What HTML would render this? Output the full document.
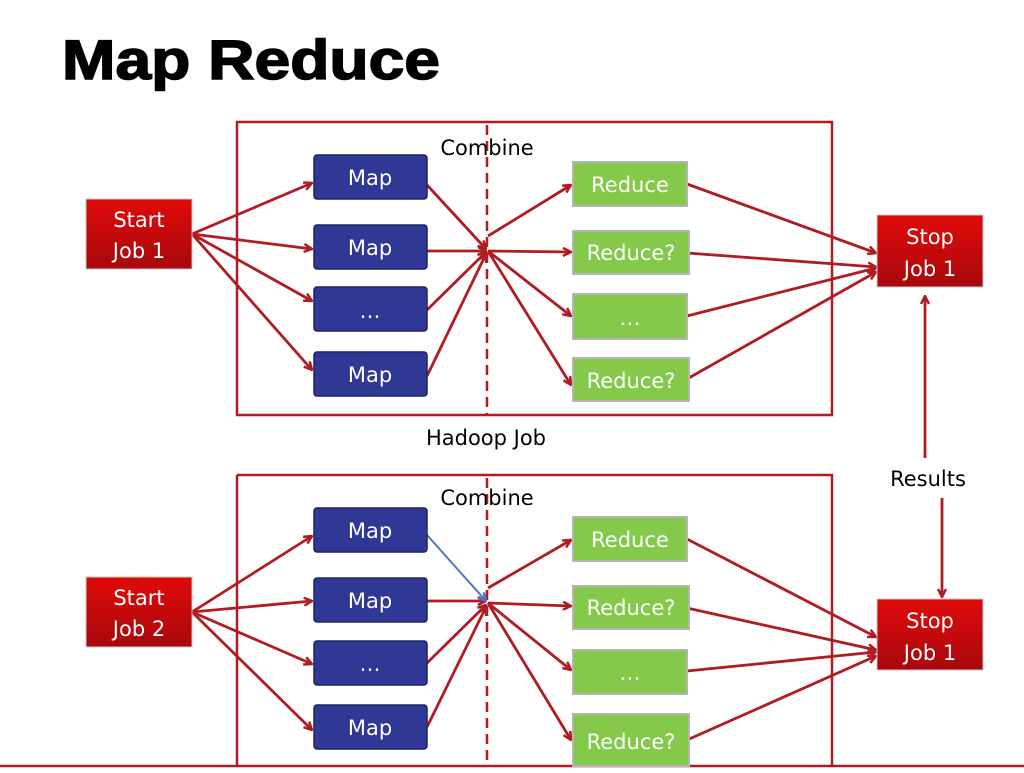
<!DOCTYPE html>
<html><head><meta charset="utf-8"><style>
body{margin:0;background:#fff;}
svg text{font-family:"DejaVu Sans","Liberation Sans",sans-serif;}
</style></head><body>
<svg width="1024" height="768" viewBox="0 0 1024 768" xmlns="http://www.w3.org/2000/svg">
<defs>
<marker id="a" markerWidth="10" markerHeight="10" refX="9" refY="5" orient="auto" markerUnits="userSpaceOnUse"><path d="M1,1 L9,5 L1,9" fill="none" stroke="#b01c22" stroke-width="2.5"/></marker>
<marker id="b" markerWidth="10" markerHeight="10" refX="9" refY="5" orient="auto" markerUnits="userSpaceOnUse"><path d="M1,1 L9,5 L1,9" fill="none" stroke="#4a78c0" stroke-width="2.5"/></marker>
<linearGradient id="rg" x1="0" y1="0" x2="0" y2="1"><stop offset="0" stop-color="#e00a0a"/><stop offset="1" stop-color="#a8080c"/></linearGradient>
</defs>
<text x="62" y="79" font-weight="bold" font-size="56" fill="#000" textLength="378" lengthAdjust="spacingAndGlyphs" stroke="#000" stroke-width="1.5" style="font-family:'Liberation Sans',sans-serif">Map Reduce</text>

<g stroke="#b01c22" stroke-width="2.5" fill="none">
<rect x="237" y="122" width="595" height="293"/>
<path d="M237,475 H832 V766 M237,475 V766 M0,766 H1024"/>
<line x1="487" y1="125" x2="487" y2="415" stroke-dasharray="10,6"/>
<line x1="487" y1="478" x2="487" y2="766" stroke-dasharray="10,6"/>
</g>

<g stroke="#b01c22" stroke-width="2.8" fill="none" marker-end="url(#a)">
<line x1="192" y1="234" x2="312" y2="183"/>
<line x1="192" y1="234" x2="312" y2="249"/>
<line x1="192" y1="234" x2="312" y2="301"/>
<line x1="192" y1="234" x2="312" y2="370"/>
<line x1="427" y1="185" x2="486" y2="249"/>
<line x1="427" y1="251" x2="486" y2="251"/>
<line x1="427" y1="310" x2="486" y2="252"/>
<line x1="427" y1="376" x2="486" y2="254"/>
<line x1="488" y1="236" x2="571" y2="185"/>
<line x1="488" y1="251" x2="571" y2="252"/>
<line x1="488" y1="251" x2="571" y2="316"/>
<line x1="488" y1="251" x2="571" y2="385"/>
<line x1="687" y1="184" x2="876" y2="253"/>
<line x1="687" y1="253" x2="876" y2="267"/>
<line x1="687" y1="316" x2="876" y2="268"/>
<line x1="687" y1="379" x2="876" y2="272"/>
<line x1="925" y1="458" x2="925" y2="296"/>
<line x1="942" y1="498" x2="942" y2="597"/>
<line x1="192" y1="612" x2="312" y2="536"/>
<line x1="192" y1="612" x2="312" y2="601"/>
<line x1="192" y1="612" x2="312" y2="664"/>
<line x1="192" y1="612" x2="312" y2="730"/>
<line x1="427" y1="601" x2="486" y2="601"/>
<line x1="427" y1="663" x2="486" y2="605"/>
<line x1="427" y1="727" x2="486" y2="607"/>
<line x1="488" y1="588" x2="571" y2="540"/>
<line x1="488" y1="603" x2="571" y2="606"/>
<line x1="488" y1="603" x2="571" y2="670"/>
<line x1="488" y1="603" x2="571" y2="740"/>
<line x1="687" y1="539" x2="876" y2="637"/>
<line x1="687" y1="608" x2="876" y2="650"/>
<line x1="687" y1="671" x2="876" y2="652"/>
<line x1="687" y1="740" x2="876" y2="656"/>
</g>
<line x1="427" y1="535" x2="486" y2="601" stroke="#4a78c0" stroke-width="2" marker-end="url(#b)"/>

<g fill="#303896" stroke="#1e2460" stroke-width="1.5">
<rect x="314" y="155" width="113" height="44" rx="3"/>
<rect x="314" y="225" width="113" height="44" rx="3"/>
<rect x="314" y="287" width="113" height="44" rx="3"/>
<rect x="314" y="352" width="113" height="44" rx="3"/>
<rect x="314" y="508" width="113" height="44" rx="3"/>
<rect x="314" y="578" width="113" height="44" rx="3"/>
<rect x="314" y="641" width="113" height="44" rx="3"/>
<rect x="314" y="705" width="113" height="44" rx="3"/>
</g>
<g fill="#84c94a" stroke="#b5b5b5" stroke-width="2">
<rect x="573" y="162" width="114" height="44"/>
<rect x="573" y="231" width="116" height="43"/>
<rect x="573" y="294" width="114" height="45"/>
<rect x="573" y="358" width="116" height="43"/>
<rect x="573" y="517" width="114" height="44"/>
<rect x="573" y="586" width="116" height="43"/>
<rect x="573" y="650" width="114" height="44"/>
<rect x="573" y="714" width="116" height="52"/>
</g>
<g fill="url(#rg)" stroke="#c7c7c7" stroke-width="1">
<rect x="86" y="199" width="106" height="70"/>
<rect x="86" y="577" width="106" height="70"/>
<rect x="877" y="215" width="106" height="72"/>
<rect x="877" y="599" width="106" height="71"/>
</g>

<g fill="#fff" font-size="21" text-anchor="middle">
<text x="139" y="227">Start</text><text x="139" y="258">Job 1</text>
<text x="139" y="605">Start</text><text x="139" y="636">Job 2</text>
<text x="930" y="244">Stop</text><text x="930" y="276">Job 1</text>
<text x="930" y="628">Stop</text><text x="930" y="660">Job 1</text>
<text x="370" y="185">Map</text><text x="370" y="255">Map</text><text x="370" y="318">…</text><text x="370" y="382">Map</text>
<text x="370" y="538">Map</text><text x="370" y="608">Map</text><text x="370" y="671">…</text><text x="370" y="735">Map</text>
<text x="630" y="192">Reduce</text><text x="631" y="260">Reduce?</text><text x="630" y="325">…</text><text x="631" y="388">Reduce?</text>
<text x="630" y="547">Reduce</text><text x="631" y="615">Reduce?</text><text x="630" y="680">…</text><text x="631" y="749">Reduce?</text>
</g>
<g fill="#000" font-size="21" text-anchor="middle">
<text x="487" y="155">Combine</text>
<text x="486" y="445">Hadoop Job</text>
<text x="487" y="505">Combine</text>
<text x="928" y="486">Results</text>
</g>
</svg>
</body></html>
